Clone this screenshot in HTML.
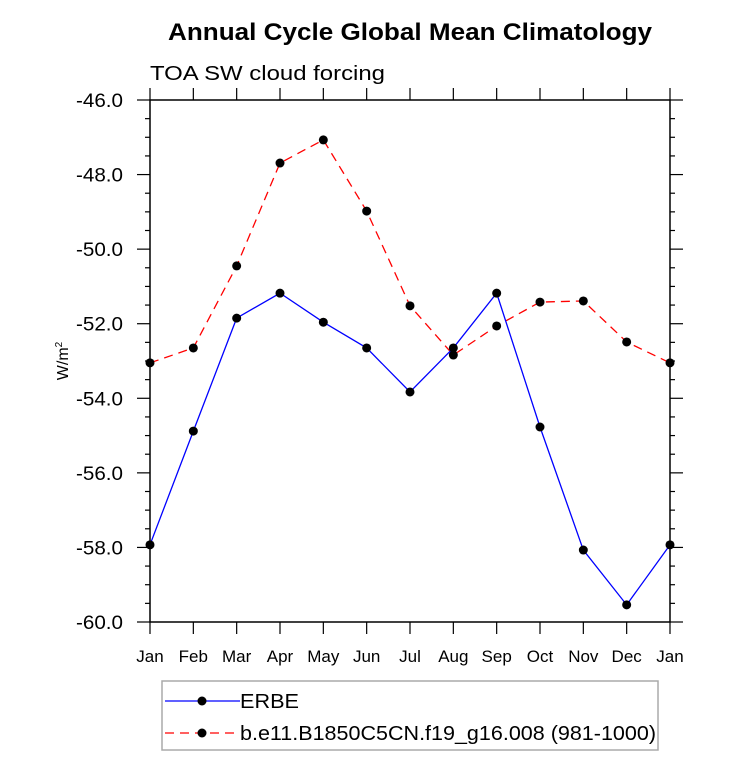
<!DOCTYPE html>
<html><head><meta charset="utf-8"><style>
body{margin:0;background:#fff}
svg text{font-family:"Liberation Sans",sans-serif}
</style></head><body>
<svg id="c" width="733" height="772">
<text x="168" y="40" font-size="24" font-weight="bold" textLength="484" lengthAdjust="spacingAndGlyphs">Annual Cycle Global Mean Climatology</text>
<text x="150" y="80" font-size="20" textLength="235" lengthAdjust="spacingAndGlyphs">TOA SW cloud forcing</text>
<text transform="translate(68,361) rotate(-90)" text-anchor="middle" font-size="16">W/m<tspan font-size="10" dy="-6">2</tspan></text>
<g id="axes"></g><g id="series"></g>
<rect x="162" y="681" width="496" height="69" fill="none" stroke="#aaa" stroke-width="1.5"/>
<g>
<line x1="165" y1="701" x2="240" y2="701" stroke="#0000ff" stroke-width="1.3"/>
<circle cx="202" cy="701" r="4.5" fill="#000"/>
<text x="240" y="708" font-size="20" textLength="59" lengthAdjust="spacingAndGlyphs">ERBE</text></g>
<g>
<line x1="165" y1="733" x2="240" y2="733" stroke="#ff0000" stroke-width="1.3" stroke-dasharray="9,6"/>
<circle cx="202" cy="733" r="4.5" fill="#000"/>
<text x="240" y="740" font-size="20" textLength="416" lengthAdjust="spacingAndGlyphs">b.e11.B1850C5CN.f19_g16.008 (981-1000)</text></g>
</svg>
<script>
const months=["Jan","Feb","Mar","Apr","May","Jun","Jul","Aug","Sep","Oct","Nov","Dec","Jan"];
const erbe=[-57.93,-54.88,-51.85,-51.18,-51.96,-52.65,-53.83,-52.65,-51.18,-54.77,-58.07,-59.54,-57.93];
const model=[-53.05,-52.65,-50.45,-47.69,-47.07,-48.98,-51.52,-52.84,-52.06,-51.42,-51.39,-52.49,-53.05];
const yTicks=[-46,-48,-50,-52,-54,-56,-58,-60];
const L=150,R=670,T=100,B=622,yMax=-46,yMin=-60;
const xs=i=>L+i*(R-L)/12;
const ys=v=>T+(yMax-v)/(yMax-yMin)*(B-T);
const NS="http://www.w3.org/2000/svg";
function mk(p,t,a){const e=document.createElementNS(NS,t);for(const k in a)e.setAttribute(k,a[k]);p.appendChild(e);return e;}
const ax=document.getElementById('axes');
const frame=mk(ax,'rect',{x:L,y:T,width:R-L,height:B-T,fill:'none',stroke:'#000','stroke-width':1.5});


for(let v=yMax;v>=yMin-0.001;v-=0.5){const y=ys(v);const maj=Math.abs(v-Math.round(v/2)*2)<0.01;const len=maj?13:5;
mk(ax,'line',{x1:L-len,y1:y,x2:L,y2:y,stroke:'#000','stroke-width':1.2});
mk(ax,'line',{x1:R,y1:y,x2:R+len,y2:y,stroke:'#000','stroke-width':1.2});}
yTicks.forEach(v=>{const t=mk(ax,'text',{x:L-27,y:ys(v)+7,'text-anchor':'end','font-size':19,textLength:47,lengthAdjust:'spacingAndGlyphs'});t.textContent=v.toFixed(1);

});
months.forEach((m,i)=>{const x=xs(i);
mk(ax,'line',{x1:x,y1:B,x2:x,y2:B+12,stroke:'#000','stroke-width':1.2});
mk(ax,'line',{x1:x,y1:T-12,x2:x,y2:T,stroke:'#000','stroke-width':1.2});
const t=mk(ax,'text',{x:x,y:B+40,'text-anchor':'middle','font-size':17});t.textContent=m;

});
const sg=document.getElementById('series');
function series(vals,color,dash,name){
const p=mk(sg,'polyline',{points:vals.map((v,i)=>xs(i)+','+ys(v)).join(' '),fill:'none',stroke:color,'stroke-width':1.3,'stroke-dasharray':dash});


vals.forEach((v,i)=>{const c=mk(sg,'circle',{cx:xs(i),cy:ys(v),r:4.5,fill:'#000'});

});}
series(model,'#ff0000','9,6','model');
series(erbe,'#0000ff','none','erbe');
</script>
</body></html>
